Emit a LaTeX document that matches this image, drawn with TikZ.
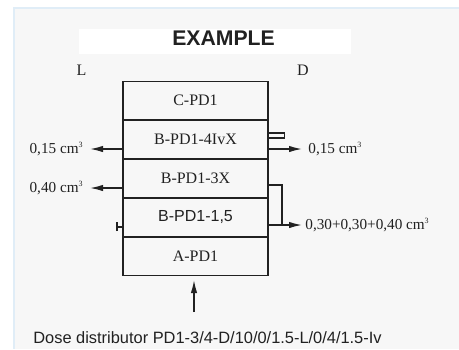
\documentclass[tikz,border=0pt]{standalone}
\usepackage{fontspec}
\setmainfont{Liberation Serif}
\setsansfont{Liberation Sans}
\usepackage{xcolor}
\definecolor{panel}{rgb}{0.969,0.969,0.969}
\definecolor{edge}{rgb}{0.88,0.93,0.97}
\definecolor{ink}{rgb}{0.13,0.13,0.13}
\usetikzlibrary{arrows.meta, positioning}
\tikzstyle{flow}  = [draw, -{Latex[length=6.5pt, width=3.2pt]}, line width=0.7pt]
\tikzstyle{layer} = [draw, rectangle, line width=0.6pt, minimum width=72.5pt, minimum height=18.9pt, inner sep=0pt, font=\fontsize{8}{9.6}\selectfont]
\tikzstyle{lbl}   = [inner sep=3pt, font=\fontsize{7.6}{9}\selectfont]
\newcommand{\cmcube}{cm\textsuperscript{\fontsize{4}{4}\selectfont 3}}

\begin{document}
\begin{tikzpicture}[x=0.5pt, y=-0.5pt, node distance=0pt, color=ink]

% frame
\useasboundingbox (0,0) rectangle (459,349);
\fill[white] (0,0) rectangle (459,349);
\fill[panel] (14,8) rectangle (459,349);
\draw[edge, line width=1pt] (14,349) -- (14,8) -- (459,8);
\fill[white] (79,29) rectangle (351,54);

% nodes
\node [font=\sffamily\bfseries\fontsize{10.6}{12}\selectfont] (title) at (223.5,38)   {EXAMPLE};
\node [font=\fontsize{8}{9.6}\selectfont]                    (left)  at (81.5,70.5)  {L};
\node [font=\fontsize{8}{9.6}\selectfont]                    (right) at (303,70.5)   {D};

\node [layer] (cpd)  at (195.5,100.5) {C-PD1};
\node [layer, below=of cpd]                                          (bivx) {B-PD1-4IvX};
\node [layer, below=of bivx]                                         (bx)   {B-PD1-3X};
\node [layer, below=of bx, font=\sffamily\fontsize{8}{9.6}\selectfont] (bone) {B-PD1-1,5};
\node [layer, below=of bone]                                         (apd)  {A-PD1};

\node [lbl, anchor=east] (lfour) at (90,149)  {0,15 \cmcube};
\node [lbl, anchor=east] (lthree) at (90,188) {0,40 \cmcube};
\node [lbl, anchor=west] (rfour) at (302,149) {0,15 \cmcube};
\node [lbl, anchor=west, inner sep=1.5pt] (rsum) at (302,225) {0,30+0,30+0,40 \cmcube};

\node [anchor=west, inner sep=0pt, font=\sffamily\fontsize{8.2}{10}\selectfont] (caption) at (33,338) {Dose distributor PD1-3/4-D/10/0/1.5-L/0/4/1.5-Iv};

\coordinate (split) at (282,185);
\coordinate (feed)  at (194,312);

%  edges
\path [flow] (bivx.west |- lfour.east)  -- (lfour.east);
\path [flow] (bx.west |- lthree.east)   -- (lthree.east);
\path [flow] (bivx.east |- rfour.west)  -- (rfour.west);
\path [flow] (bone.east |- rsum.west)   -- (rsum.west);
\path [flow, shorten >=2pt] (feed)      -- (feed |- apd.south);

\draw [line width=0.6pt] (bx.east |- split) -- (split) -- (split |- rsum.west);
\draw [line width=0.6pt] ([yshift=-6.5pt]bivx.north east) rectangle ++(16,5);
\draw [-{Bar[width=4.5pt]}, line width=1pt] ([yshift=-4.5pt]bone.west) -- ++(-6,0);

\end{tikzpicture}
\end{document}
